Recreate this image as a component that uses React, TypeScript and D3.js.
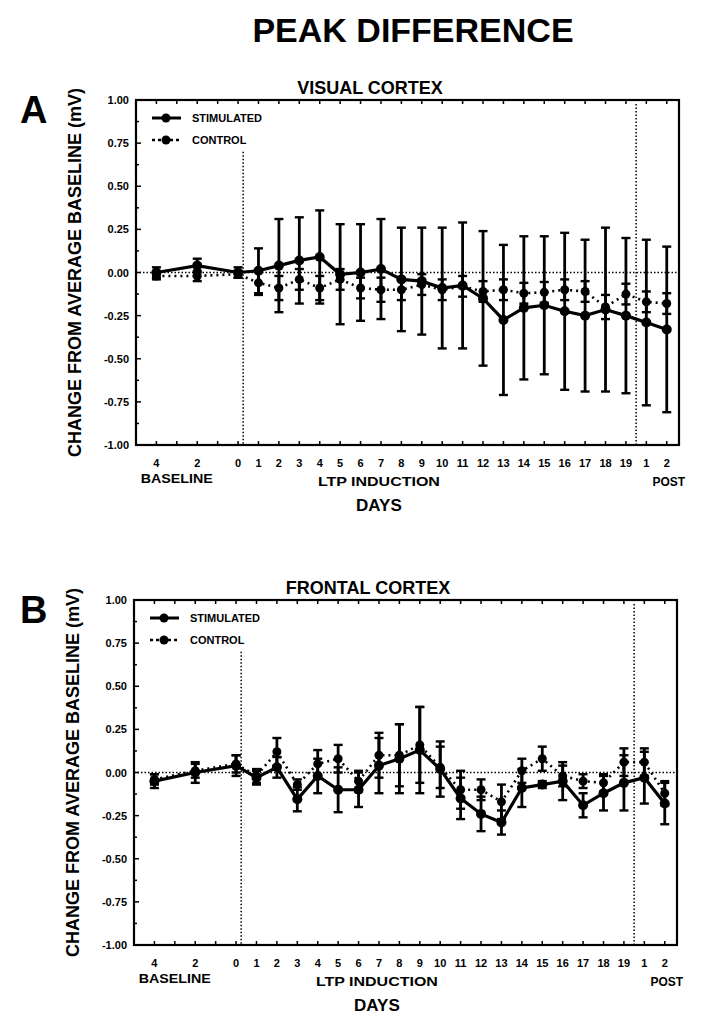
import React from "react";
import * as d3 from "d3";

// x positions of the days (baseline -4,-2,0; induction 1..19; post 1,2)
const days = [-4, -2, 0, 1, 2, 3, 4, 5, 6, 7, 8, 9, 10, 11, 12, 13, 14, 15, 16, 17, 18, 19, 20, 21];
const dayLabels = ["4", "2", "0", "1", "2", "3", "4", "5", "6", "7", "8", "9", "10", "11", "12", "13", "14", "15", "16", "17", "18", "19", "1", "2"];
const yTicks = [1, 0.75, 0.5, 0.25, 0, -0.25, -0.5, -0.75, -1];

// visual cortex
const stimA = [0.0, 0.04, 0.0, 0.01, 0.04, 0.07, 0.09, -0.01, 0.0, 0.02, -0.04, -0.05, -0.09, -0.075, -0.15, -0.275, -0.205, -0.19, -0.225, -0.25, -0.215, -0.25, -0.29, -0.33];
const stimErrA = [0.03, 0.04, 0.03, 0.13, 0.27, 0.25, 0.27, 0.29, 0.28, 0.29, 0.3, 0.31, 0.35, 0.365, 0.39, 0.435, 0.415, 0.4, 0.455, 0.44, 0.475, 0.45, 0.48, 0.48];
const ctrlA = [-0.02, -0.02, -0.01, -0.06, -0.09, -0.04, -0.09, -0.04, -0.09, -0.1, -0.1, -0.07, -0.1, -0.08, -0.11, -0.1, -0.12, -0.115, -0.1, -0.11, -0.2, -0.125, -0.17, -0.18];
const ctrlErrA = [0.02, 0.03, 0.02, 0.07, 0.07, 0.06, 0.07, 0.06, 0.06, 0.07, 0.06, 0.06, 0.06, 0.06, 0.06, 0.06, 0.06, 0.06, 0.06, 0.06, 0.07, 0.06, 0.06, 0.06];

// frontal cortex
const stimB = [-0.05, 0.0, 0.04, -0.03, 0.03, -0.155, -0.02, -0.1, -0.1, 0.04, 0.08, 0.13, 0.02, -0.15, -0.24, -0.29, -0.09, -0.07, -0.05, -0.19, -0.12, -0.06, -0.03, -0.18];
const stimErrB = [0.04, 0.06, 0.06, 0.04, 0.06, 0.07, 0.1, 0.13, 0.1, 0.16, 0.2, 0.25, 0.16, 0.12, 0.1, 0.07, 0.11, 0.02, 0.11, 0.07, 0.1, 0.16, 0.15, 0.12];
const ctrlB = [-0.04, 0.01, 0.05, -0.02, 0.12, -0.07, 0.05, 0.08, -0.05, 0.1, 0.1, 0.16, 0.03, -0.1, -0.1, -0.17, 0.01, 0.08, -0.02, -0.05, -0.06, 0.06, 0.06, -0.12];
const ctrlErrB = [0.03, 0.04, 0.05, 0.04, 0.08, 0.03, 0.08, 0.08, 0.06, 0.13, 0.18, 0.22, 0.12, 0.11, 0.06, 0.1, 0.07, 0.07, 0.06, 0.04, 0.05, 0.08, 0.08, 0.07];

const font = "'Liberation Sans', Arial, Helvetica, sans-serif";

function Series({ x, y, vals, errs, dashed, r }) {
  const line = d3.line<number>().x((_, i) => x(days[i])).y((d) => y(d));
  return (
    <g>
      <path d={line(vals) || ""} fill="none" stroke="#000" strokeWidth={dashed ? 2.6 : 3.2}
        strokeDasharray={dashed ? "2 4" : undefined} />
      {vals.map((v, i) => {
        const cx = x(days[i]);
        return (
          <g key={i}>
            <line x1={cx} x2={cx} y1={y(v + errs[i])} y2={y(v - errs[i])} stroke="#000" strokeWidth={2.8} />
            <line x1={cx - 4.5} x2={cx + 4.5} y1={y(v + errs[i])} y2={y(v + errs[i])} stroke="#000" strokeWidth={2.4} />
            <line x1={cx - 4.5} x2={cx + 4.5} y1={y(v - errs[i])} y2={y(v - errs[i])} stroke="#000" strokeWidth={2.4} />
            <circle cx={cx} cy={y(v)} r={r} fill="#000" />
          </g>
        );
      })}
    </g>
  );
}

function Panel({ top, left, letter, title, stim, stimErr, ctrl, ctrlErr }) {
  const w = 543;
  const h = 345;
  const x = d3.scaleLinear().domain([-5, 21.6]).range([left, left + w]);
  const y = d3.scaleLinear().domain([-1, 1]).range([top + h, top]);
  const bottom = top + h;
  const xTicks = d3.range(-5, 22);
  const minorY = d3.range(-1, 1.001, 0.125);

  return (
    <g fontFamily={font} fontWeight="bold" fill="#000">
      <text x={20} y={top + 23} fontSize={38}>{letter}</text>
      <text x={left + 234} y={top - 6} fontSize={18} textAnchor="middle">{title}</text>

      {/* y axis title */}
      <text transform={`translate(${left - 61},${y(0)}) rotate(-90)`} fontSize={18} textAnchor="middle"
        dominantBaseline="central">CHANGE FROM AVERAGE BASELINE (mV)</text>

      {yTicks.map((t) => (
        <text key={t} x={left - 7} y={y(t)} fontSize={11} textAnchor="end" dominantBaseline="central">
          {t.toFixed(2)}
        </text>
      ))}
      {minorY.map((t, i) => (
        <g key={i}>
          <line x1={left} x2={left + (i % 2 === 0 ? 5 : 3)} y1={y(t)} y2={y(t)} stroke="#000" strokeWidth={1.5} />
        </g>
      ))}
      {xTicks.map((t) => (
        <g key={t}>
          <line x1={x(t)} x2={x(t)} y1={bottom} y2={bottom - 4} stroke="#000" strokeWidth={1.5} />
          <line x1={x(t)} x2={x(t)} y1={top} y2={top + 4} stroke="#000" strokeWidth={1.5} />
        </g>
      ))}

      {days.map((d, i) => (
        <text key={i} x={x(d)} y={bottom + 22} fontSize={11} textAnchor="middle">{dayLabels[i]}</text>
      ))}
      <text x={x(-3)} y={bottom + 38} fontSize={12} textAnchor="middle" textLength={72} lengthAdjust="spacingAndGlyphs">BASELINE</text>
      <text x={x(6.9)} y={bottom + 41} fontSize={13} textAnchor="middle" textLength={122} lengthAdjust="spacingAndGlyphs">LTP INDUCTION</text>
      <text x={x(21.1)} y={bottom + 41} fontSize={12} textAnchor="middle">POST</text>
      <text x={x(6.9)} y={bottom + 66} fontSize={17} textAnchor="middle">DAYS</text>

      {/* reference lines */}
      <line x1={left} x2={left + w} y1={y(0)} y2={y(0)} stroke="#000" strokeWidth={1.5} strokeDasharray="1.5 2" />
      <line x1={x(0.25)} x2={x(0.25)} y1={y(0.7)} y2={bottom} stroke="#000" strokeWidth={1.5} strokeDasharray="1.5 2" />
      <line x1={x(19.5)} x2={x(19.5)} y1={top + 4} y2={bottom} stroke="#000" strokeWidth={1.5} strokeDasharray="1.5 2" />

      <Series x={x} y={y} vals={ctrl} errs={ctrlErr} dashed r={4.5} />
      <Series x={x} y={y} vals={stim} errs={stimErr} dashed={false} r={5} />

      <rect x={left} y={top} width={w} height={h} fill="none" stroke="#000" strokeWidth={2.2} />

      {/* legend */}
      <line x1={left + 16} x2={left + 45} y1={top + 18} y2={top + 18} stroke="#000" strokeWidth={3} />
      <circle cx={left + 30} cy={top + 18} r={4.5} />
      <text x={left + 56} y={top + 22} fontSize={11}>STIMULATED</text>
      <line x1={left + 16} x2={left + 45} y1={top + 40} y2={top + 40} stroke="#000" strokeWidth={2.5} strokeDasharray="3 3" />
      <circle cx={left + 30} cy={top + 40} r={4.5} />
      <text x={left + 56} y={top + 44} fontSize={11}>CONTROL</text>
    </g>
  );
}

export default function App() {
  return (
    <svg width={701} height={1017} style={{ position: "absolute", left: 0, top: 0, background: "#fff" }}>
      <text x={413} y={42} fontFamily={font} fontWeight="bold" fontSize={34} textAnchor="middle">PEAK DIFFERENCE</text>
      <Panel top={100} left={136} letter="A" title="VISUAL CORTEX"
        stim={stimA} stimErr={stimErrA} ctrl={ctrlA} ctrlErr={ctrlErrA} />
      <Panel top={600} left={134} letter="B" title="FRONTAL CORTEX"
        stim={stimB} stimErr={stimErrB} ctrl={ctrlB} ctrlErr={ctrlErrB} />
    </svg>
  );
}
